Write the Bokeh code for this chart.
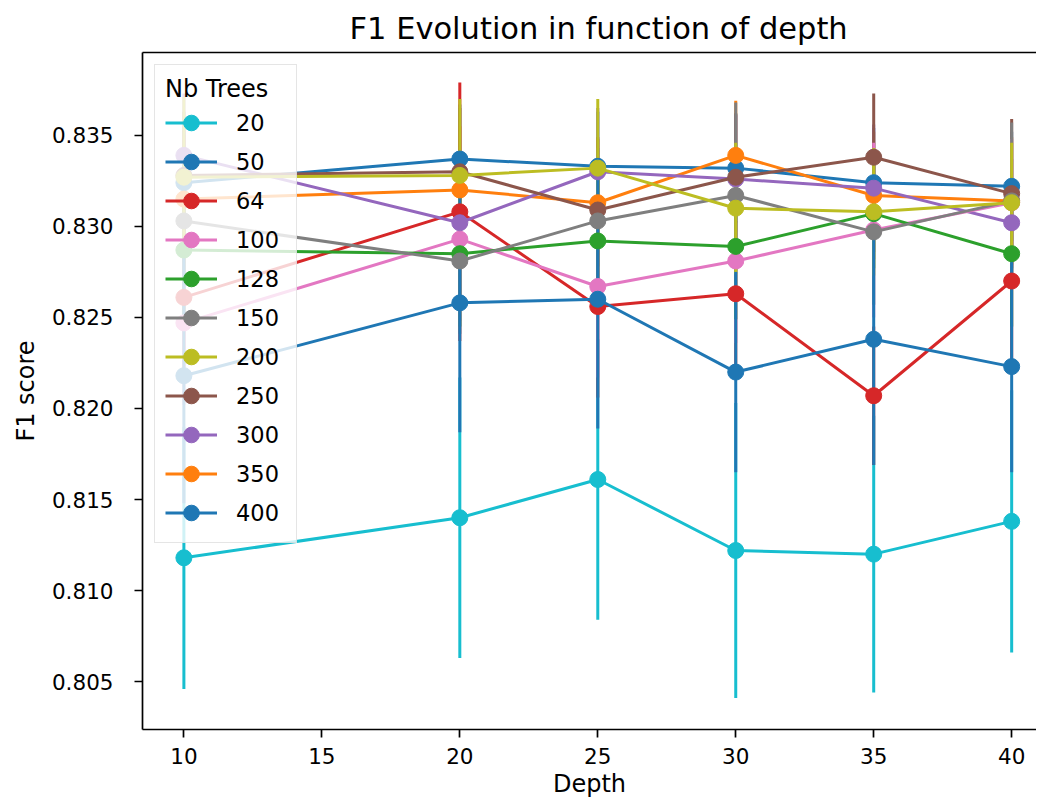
import numpy as np
from bokeh.plotting import figure
from bokeh.models import (ColumnDataSource, Range1d, FixedTicker, PrintfTickFormatter,
                          Legend, LegendItem, LinearAxis)
from bokeh.embed import file_html
from bokeh.resources import INLINE

# ---------------- data ----------------
depths = [10, 20, 25, 30, 35, 40]
x_ticks = [10, 15, 20, 25, 30, 35, 40]
y_ticks = [0.805, 0.810, 0.815, 0.820, 0.825, 0.830, 0.835]
title_text = "F1 Evolution in function of depth"

legend_order = ["20", "50", "64", "100", "128", "150", "200", "250", "300", "350", "400"]
draw_order = ["20", "50", "350", "64", "300", "250", "100", "128", "150", "200", "400"]

f1_20 = [0.8118, 0.8140, 0.8161, 0.8122, 0.8120, 0.8138]
f1_50 = [0.8324, 0.8337, 0.8333, 0.8332, 0.8324, 0.8322]
f1_64 = [0.8261, 0.8308, 0.8256, 0.8263, 0.8207, 0.8270]
f1_100 = [0.8247, 0.8293, 0.8267, 0.8281, 0.8298, 0.8313]
f1_128 = [0.8287, 0.8285, 0.8292, 0.8289, 0.8307, 0.8285]
f1_150 = [0.8303, 0.8281, 0.8303, 0.8317, 0.8297, 0.8314]
f1_200 = [0.8327, 0.8328, 0.8332, 0.8310, 0.8308, 0.8313]
f1_250 = [0.8328, 0.8330, 0.8309, 0.8327, 0.8338, 0.8318]
f1_300 = [0.8339, 0.8302, 0.8330, 0.8326, 0.8321, 0.8302]
f1_350 = [0.8315, 0.8320, 0.8313, 0.8339, 0.8317, 0.8314]
f1_400 = [0.8218, 0.8258, 0.8260, 0.8220, 0.8238, 0.8223]

err_20 = [0.0072, 0.0077, 0.0077, 0.0081, 0.0076, 0.0072]
err_50 = [0.0030, 0.0030, 0.0030, 0.0030, 0.0030, 0.0030]
err_64 = [0.0045, 0.0071, 0.0050, 0.0040, 0.0038, 0.0045]
err_100 = [0.0045, 0.0045, 0.0050, 0.0045, 0.0048, 0.0035]
err_128 = [0.0040, 0.0040, 0.0040, 0.0040, 0.0030, 0.0040]
err_150 = [0.0040, 0.0040, 0.0040, 0.0051, 0.0040, 0.0043]
err_200 = [0.0044, 0.0042, 0.0038, 0.0036, 0.0035, 0.0033]
err_250 = [0.0035, 0.0035, 0.0040, 0.0035, 0.0035, 0.0041]
err_300 = [0.0034, 0.0040, 0.0035, 0.0035, 0.0035, 0.0035]
err_350 = [0.0035, 0.0035, 0.0035, 0.0030, 0.0035, 0.0035]
err_400 = [0.0070, 0.0071, 0.0071, 0.0055, 0.0069, 0.0058]

values = {"20": f1_20, "50": f1_50, "64": f1_64, "100": f1_100, "128": f1_128,
          "150": f1_150, "200": f1_200, "250": f1_250, "300": f1_300,
          "350": f1_350, "400": f1_400}
errors = {"20": err_20, "50": err_50, "64": err_64, "100": err_100, "128": err_128,
          "150": err_150, "200": err_200, "250": err_250, "300": err_300,
          "350": err_350, "400": err_400}
colors = {"20": "#17becf", "50": "#1f77b4", "64": "#d62728", "100": "#e377c2",
          "128": "#2ca02c", "150": "#7f7f7f", "200": "#bcbd22", "250": "#8c564b",
          "300": "#9467bd", "350": "#ff7f0e", "400": "#1f77b4"}

FONT = "DejaVu Sans"

# ---------------- figure ----------------
p = figure(width=1036, height=800, output_backend="svg", toolbar_location=None,
           x_range=Range1d(8.5, 40.9), y_range=Range1d(0.80237, 0.83955),
           min_border_left=142, min_border_right=0, min_border_top=52,
           min_border_bottom=70, title=title_text)
p.outline_line_color = None
p.grid.visible = False
p.background_fill_color = "white"
p.border_fill_color = "white"

p.title.text_font = FONT
p.title.text_font_size = "30.5px"
p.title.text_font_style = "normal"
p.title.text_color = "black"
p.title.align = "left"
p.title.offset = 207
p.title.standoff = 10
p.title.vertical_align = "top"

for ax in (p.xaxis[0], p.yaxis[0]):
    ax.axis_line_width = 1.7
    ax.axis_line_color = "black"
    ax.major_tick_line_width = 1.7
    ax.major_tick_line_color = "black"
    ax.major_tick_out = 8
    ax.major_tick_in = 0
    ax.minor_tick_line_color = None
    ax.major_label_text_font = FONT
    ax.major_label_text_font_size = "21.5px"
    ax.major_label_text_color = "black"
    ax.axis_label_text_font = FONT
    ax.axis_label_text_font_size = "24px"
    ax.axis_label_text_font_style = "normal"
    ax.axis_label_text_color = "black"

p.xaxis.ticker = FixedTicker(ticks=x_ticks)
p.yaxis.ticker = FixedTicker(ticks=y_ticks)
p.yaxis.formatter = PrintfTickFormatter(format="%.3f")
p.xaxis.axis_label = "Depth"
p.yaxis.axis_label = "F1 score"
p.xaxis.major_label_standoff = 10
p.xaxis.axis_label_standoff = 3
p.yaxis.major_label_standoff = 21
p.yaxis.axis_label_standoff = 9

top_axis = LinearAxis(ticker=FixedTicker(ticks=[]), major_label_text_font_size="0px",
                      axis_line_width=1.7, axis_line_color="black",
                      major_tick_line_color=None, minor_tick_line_color=None)
p.add_layout(top_axis, "above")

# error bars (all drawn beneath the data lines, like matplotlib)
for key in draw_order:
    f = np.array(values[key])
    e = np.array(errors[key])
    src = ColumnDataSource(dict(x=depths, lo=f - e, hi=f + e))
    p.segment(x0="x", y0="lo", x1="x", y1="hi", source=src,
              line_color=colors[key], line_width=3)

renderers = {}
for key in draw_order:
    src = ColumnDataSource(dict(x=depths, y=values[key]))
    lr = p.line("x", "y", source=src, line_color=colors[key], line_width=3)
    cr = p.scatter("x", "y", source=src, size=16, marker="circle",
                   fill_color=colors[key], line_color=colors[key])
    dr = p.scatter(x=[-100], y=[-100], marker="dash", angle=np.pi / 2, size=16,
                   line_color=colors[key], line_width=3)
    renderers[key] = [lr, dr, cr]

items = [LegendItem(label=k, renderers=renderers[k]) for k in legend_order]
legend = Legend(items=items, location="top_left", margin=12, padding=10, spacing=0,
                glyph_width=52, glyph_height=39, label_height=39, label_width=50,
                label_standoff=19, label_text_font=FONT, label_text_font_size="22.5px",
                label_text_color="black", title="Nb Trees", title_text_font=FONT,
                title_text_font_size="24px", title_text_font_style="normal",
                title_text_color="black", title_standoff=-4,
                border_line_color="#cccccc", border_line_width=1.5,
                background_fill_color="white", background_fill_alpha=0.8)
p.add_layout(legend)

open("out.html", "w").write(file_html(p, INLINE))
